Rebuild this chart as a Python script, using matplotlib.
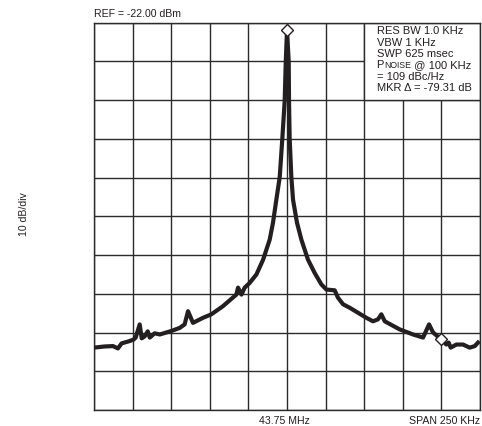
import matplotlib

matplotlib.use('Agg')
from matplotlib import pyplot as plt
from matplotlib.patches import Rectangle

# spectrum trace, offset from carrier (kHz) and level (dB below REF)
freq_khz = [-125, -118.1, -112.7, -109.5, -107.1, -101.9, -99.3, -98.0, -95.4, -94.1,
            -92.2, -90.2, -88.9, -85.7, -82.4, -74.9, -69.5, -66.3, -64.1, -60.9,
            -54.4, -49.0, -41.5, -32.8, -31.7, -29.5, -27.4, -24.2, -19.8, -15.5,
            -11.2, -9.1, -6.9, -4.7, -3.0, -1.5, -0.8, 0.0,
            1.1, 1.3, 1.7, 2.8, 3.9, 6.5, 9.3, 13.6, 17.9, 22.3,
            25.5, 30.9, 33.0, 36.3, 40.6, 51.4, 55.7, 58.9, 61.1, 63.3,
            73.0, 81.6, 88.1, 92.0, 94.6, 100.0, 103.2, 104.7, 106.0, 109.7,
            114.0, 118.3, 121.6, 123.7]
level_db = [-83.9, -83.6, -83.5, -84.1, -82.8, -82.2, -81.8, -81.3, -77.9, -81.5,
            -81.0, -79.7, -81.3, -80.2, -80.5, -79.6, -78.8, -77.9, -74.5, -77.5,
            -76.2, -75.3, -73.2, -70.2, -68.4, -70.2, -68.4, -67.2, -65.0, -61.2,
            -56.0, -51.7, -45.7, -39.8, -29.7, -20.2, -10.1, -1.9,
            -10.1, -20.2, -29.7, -39.8, -45.7, -51.7, -56.0, -61.2, -64.6, -67.6,
            -68.9, -69.1, -71.0, -72.7, -73.6, -76.2, -77.1, -76.6, -75.3, -77.1,
            -79.2, -80.5, -81.3, -77.9, -80.0, -81.8, -83.1, -82.6, -83.9, -83.1,
            -83.1, -83.9, -83.5, -82.6]

marker_khz = [0.0, 100.0]
marker_db = [-1.9, -81.8]

info_top = ['RES BW 1.0 KHz', 'VBW 1 KHz', 'SWP 625 msec']
info_bottom = ['= 109 dBc/Hz', 'MKR \u0394 = -79.31 dB']

plt.rcParams['font.family'] = ['Liberation Sans', 'DejaVu Sans']
ink = '#231f20'
fs = 7.6
fs_box = 8.0

fig = plt.figure(figsize=(4.82, 4.26), dpi=100)
ax = fig.add_axes([0.195, 0.0376, 0.8009, 0.9091])
ax.set_xlim(-125, 125)
ax.set_ylim(-100, 0)
ax.set_xticks(range(-125, 126, 25))
ax.set_yticks(range(-100, 1, 10))
ax.tick_params(length=0, labelbottom=False, labelleft=False)
ax.grid(True, color='#2b2b2b', linewidth=1.0)
for s in ax.spines.values():
    s.set_color('#2b2b2b')
    s.set_linewidth(1.0)

ax.plot(freq_khz, level_db, color=ink, linewidth=3.0, solid_joinstyle='round', zorder=3)
ax.plot(marker_khz, marker_db, linestyle='none', marker='D', markersize=6,
        markerfacecolor='white', markeredgecolor=ink, markeredgewidth=1.0,
        clip_on=False, zorder=4)

# annotation box in the top-right corner
ax.add_patch(Rectangle((50, -20), 75, 20, facecolor='white', edgecolor='#2b2b2b',
                       linewidth=1.0, zorder=2.5))
x0 = 0.732
y = 0.970
step = 0.0292
for line in info_top:
    ax.text(x0, y, line, transform=ax.transAxes, fontsize=fs_box, va='baseline', color=ink,
            zorder=5)
    y -= step
t = ax.text(x0, y, 'P', transform=ax.transAxes, fontsize=fs_box, va='baseline', color=ink,
            zorder=5)
fig.canvas.draw()
bb = t.get_window_extent()
xs = ax.transAxes.inverted().transform((bb.x1, bb.y0))[0]
t2 = ax.text(xs, y, 'NOISE', transform=ax.transAxes, fontsize=fs_box * 0.78, va='baseline',
             color=ink, zorder=5)
fig.canvas.draw()
bb = t2.get_window_extent()
xs = ax.transAxes.inverted().transform((bb.x1, bb.y0))[0]
ax.text(xs, y, ' @ 100 KHz', transform=ax.transAxes, fontsize=fs_box, va='baseline', color=ink,
        zorder=5)
y -= step
for line in info_bottom:
    ax.text(x0, y, line, transform=ax.transAxes, fontsize=fs_box, va='baseline', color=ink,
            zorder=5)
    y -= step

fig.text(94 / 482, 1 - 17 / 426, 'REF = -22.00 dBm', fontsize=fs, va='baseline', color=ink)
fig.text(24 / 482, 1 - 214 / 426, '10 dB/div', fontsize=fs, rotation=90,
         ha='center', va='center', color=ink)
fig.text(284.7 / 482, 1 - 423.5 / 426, '43.75 MHz', fontsize=fs, ha='center', va='baseline',
         color=ink)
fig.text(480 / 482, 1 - 423.5 / 426, 'SPAN 250 KHz', fontsize=fs, ha='right', va='baseline',
         color=ink)

fig.savefig('out.png', dpi=100)
